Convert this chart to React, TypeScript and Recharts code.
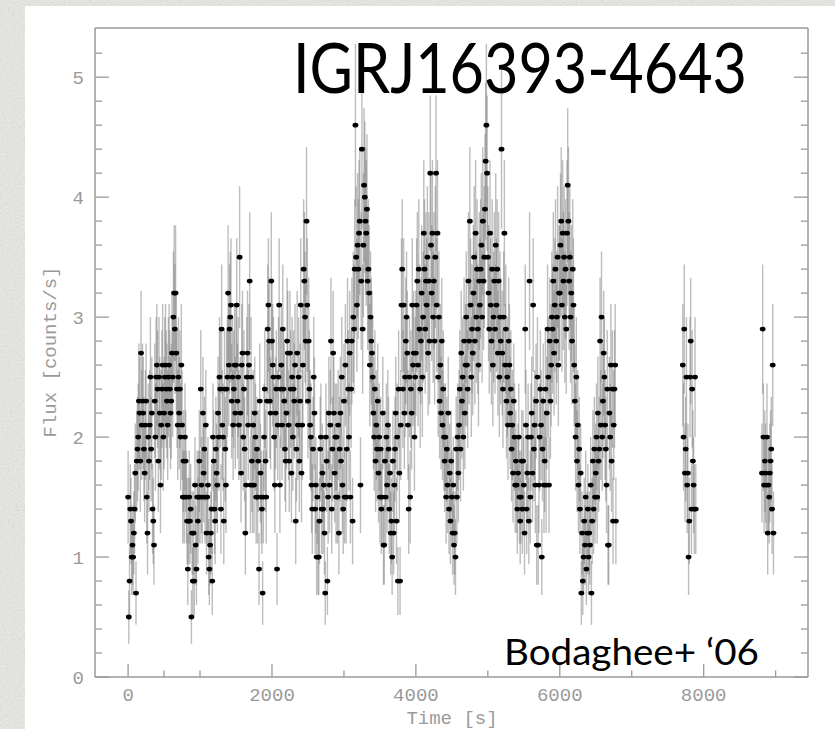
import { ErrorBar, Scatter, ScatterChart, XAxis, YAxis } from "recharts";

const W = 835;
const H = 729;
// plot frame in page pixels
const PLOT = { left: 95, right: 808, top: 28, bottom: 677 };

const BIN_S = 10;

// source counts per 10 s bin, first stretch (t = 0 ... 6780 s)
const seg1Start = 0;
const seg1Counts = [
  15, 5, 8, 14, 13, 10, 11, 10, 12, 14,
  17, 7, 18, 19, 20, 23, 22, 18, 27, 21,
  23, 22, 19, 17, 21, 23, 15, 12, 20, 18,
  21, 25, 19, 22, 14, 13, 11, 23, 20, 25,
  26, 24, 18, 25, 22, 16, 21, 24, 26, 20,
  22, 25, 26, 24, 23, 21, 25, 26, 24, 22,
  23, 27, 25, 30, 32, 29, 32, 27, 24, 21,
  25, 22, 24, 20, 26, 21, 15, 18, 15, 20,
  18, 15, 13, 9, 13, 15, 13, 14, 5, 12,
  8, 12, 8, 16, 11, 9, 15, 13, 15, 18,
  15, 24, 16, 15, 22, 17, 19, 15, 21, 12,
  15, 16, 10, 9, 11, 12, 14, 8, 20, 18,
  14, 13, 19, 17, 16, 22, 20, 25, 24, 14,
  29, 21, 20, 13, 24, 19, 16, 24, 25, 32,
  26, 29, 30, 31, 23, 25, 21, 24, 26, 22,
  26, 31, 23, 25, 21, 35, 22, 17, 26, 27,
  20, 24, 19, 12, 16, 25, 27, 21, 26, 33,
  16, 25, 18, 16, 21, 16, 22, 20, 15, 19,
  15, 18, 9, 23, 17, 15, 14, 7, 15, 20,
  24, 18, 15, 23, 29, 31, 28, 23, 22, 33,
  28, 26, 25, 20, 16, 22, 24, 9, 21, 25,
  31, 16, 24, 26, 21, 29, 24, 23, 19, 18,
  22, 28, 27, 21, 18, 27, 24, 17, 25, 20,
  24, 23, 26, 13, 19, 27, 21, 25, 18, 23,
  31, 17, 21, 26, 34, 33, 30, 28, 38, 31,
  23, 28, 24, 21, 20, 16, 14, 19, 25, 22,
  14, 16, 10, 15, 10, 10, 13, 19, 20, 14,
  17, 14, 16, 12, 7, 20, 18, 8, 15, 22,
  16, 21, 28, 14, 19, 27, 22, 17, 20, 15,
  20, 15, 21, 12, 19, 22, 18, 25, 16, 14,
  23, 15, 26, 15, 19, 28, 24, 20, 27, 15,
  24, 28, 13, 30, 29, 34, 46, 35, 31, 36,
  34, 37, 38, 16, 33, 44, 29, 36, 41, 40,
  38, 37, 39, 33, 34, 32, 26, 30, 28, 27,
  25, 22, 20, 24, 18, 21, 19, 23, 17, 20,
  15, 19, 14, 15, 22, 11, 11, 18, 15, 20,
  16, 21, 19, 14, 17, 12, 13, 10, 18, 12,
  16, 19, 22, 13, 20, 8, 24, 17, 8, 21,
  31, 34, 24, 31, 22, 25, 28, 30, 27, 21,
  14, 25, 15, 24, 22, 31, 26, 27, 20, 25,
  27, 31, 33, 26, 34, 29, 24, 28, 32, 25,
  30, 37, 34, 29, 33, 31, 35, 27, 33, 28,
  42, 36, 32, 37, 30, 33, 28, 35, 42, 31,
  37, 25, 30, 23, 26, 22, 28, 21, 24, 20,
  18, 20, 15, 19, 16, 22, 14, 17, 13, 18,
  15, 12, 16, 11, 12, 10, 19, 15, 20, 17,
  21, 24, 19, 27, 23, 25, 20, 28, 22, 26,
  30, 26, 24, 33, 28, 38, 31, 25, 29, 27,
  32, 35, 28, 37, 30, 34, 29, 26, 33, 31,
  34, 36, 30, 38, 33, 35, 39, 43, 46, 42,
  35, 32, 29, 37, 31, 28, 34, 26, 30, 33,
  29, 36, 31, 34, 27, 33, 25, 30, 28, 44,
  27, 24, 30, 37, 26, 29, 23, 25, 21, 28,
  26, 22, 24, 19, 21, 17, 23, 20, 16, 18,
  16, 14, 17, 20, 15, 13, 15, 18, 14, 18,
  16, 12, 29, 21, 14, 17, 20, 13, 33, 15,
  20, 22, 17, 31, 19, 21, 16, 23, 11, 25,
  11, 16, 20, 24, 21, 10, 19, 23, 16, 18,
  24, 16, 22, 29, 25, 16, 28, 23, 26, 30,
  29, 33, 27, 31, 34, 28, 30, 35, 26, 32,
  32, 36, 38, 31, 37, 33, 35, 30, 34, 29,
  37, 41, 38, 33, 35, 30, 32, 28, 34, 31,
  26, 23, 20, 25, 18, 21, 16, 19, 14, 17,
  7, 12, 8, 10, 13, 11, 15, 9, 12, 14,
  10, 12, 11, 16, 7, 13, 18, 14, 19, 15,
  17, 20, 15, 22, 18, 19, 28, 21, 30, 20,
  23, 27, 25, 21, 19, 16, 24, 11, 11, 22,
  20, 26, 18, 24, 13, 21, 24, 26, 13,
];

const seg2Start = 7710;
const seg2Counts = [26, 20, 29, 17, 19, 25, 16, 17, 10, 13, 25, 28, 14, 24, 18, 16, 14, 25, 14];

const seg3Start = 8810;
const seg3Counts = [17, 29, 20, 16, 18, 17, 16, 20, 12, 16, 15, 17, 18, 19, 14, 26, 12];

const xTicks = [0, 500, 1000, 1500, 2000, 2500, 3000, 3500, 4000, 4500, 5000, 5500, 6000, 6500, 7000, 7500, 8000, 8500, 9000];
const xLabels = [0, 2000, 4000, 6000, 8000];
const yTicks = [0, 0.2, 0.4, 0.6, 0.8, 1, 1.2, 1.4, 1.6, 1.8, 2, 2.2, 2.4, 2.6, 2.8, 3, 3.2, 3.4, 3.6, 3.8, 4, 4.2, 4.4, 4.6, 4.8, 5, 5.2];
const yLabels = [0, 1, 2, 3, 4, 5];

const X_DOMAIN = [-460, 9450];
const Y_DOMAIN = [0, 5.41];

function toPoints(start: number, counts: number[]) {
  return counts.map((c, i) => ({
    t: start + i * BIN_S,
    flux: c / BIN_S,
    err: Math.sqrt(c) / BIN_S,
  }));
}

const points = [
  ...toPoints(seg1Start, seg1Counts),
  ...toPoints(seg2Start, seg2Counts),
  ...toPoints(seg3Start, seg3Counts),
];

const GREY = "#9a9a9a";
const MONO = "'Liberation Mono', 'DejaVu Sans Mono', monospace";

type Side = "bottom" | "top" | "left" | "right";

function InwardTick(props: any) {
  const { x, y, payload, side } = props as { x: number; y: number; payload: { value: number }; side: Side };
  const v = payload.value;
  if (side === "bottom" || side === "top") {
    const major = xLabels.includes(v);
    const len = major ? 13 : 6.5;
    const edge = side === "bottom" ? PLOT.bottom : PLOT.top;
    const dir = side === "bottom" ? -1 : 1;
    return (
      <g>
        <line x1={x} x2={x} y1={edge} y2={edge + dir * len} stroke={GREY} strokeWidth={1.3} />
        {side === "bottom" && major && (
          <text x={x} y={PLOT.bottom + 24} textAnchor="middle" fontFamily={MONO} fontSize={19} fill={GREY}>
            {v}
          </text>
        )}
      </g>
    );
  }
  const major = yLabels.includes(v);
  const len = major ? 14 : 7;
  const edge = side === "left" ? PLOT.left : PLOT.right;
  const dir = side === "left" ? 1 : -1;
  return (
    <g>
      <line x1={edge} x2={edge + dir * len} y1={y} y2={y} stroke={GREY} strokeWidth={1.3} />
      {side === "left" && major && (
        <text x={PLOT.left - 11} y={y} dy="0.36em" textAnchor="end" fontFamily={MONO} fontSize={19} fill={GREY}>
          {v}
        </text>
      )}
    </g>
  );
}

function Dot(props: any) {
  const { cx, cy } = props;
  if (cx == null || cy == null) return null;
  return <ellipse cx={cx} cy={cy} rx={2.9} ry={2.4} fill="#000" />;
}

export default function App() {
  return (
    <div style={{ position: "absolute", left: 0, top: 0, width: W, height: H, overflow: "hidden" }}>
      <svg width={W} height={H} style={{ position: "absolute", left: 0, top: 0 }}>
        <defs>
          <filter id="paper" x="0" y="0" width="100%" height="100%">
            <feTurbulence type="fractalNoise" baseFrequency="0.5" numOctaves={3} seed={7} />
            <feColorMatrix type="saturate" values="0" />
            <feComponentTransfer>
              <feFuncA type="table" tableValues="0 0.9" />
            </feComponentTransfer>
          </filter>
        </defs>
        <rect width={W} height={H} fill="#e8e8e4" />
        <rect width={W} height={H} filter="url(#paper)" opacity={0.3} />
        <rect x={25} y={6} width={W - 25} height={H - 6} fill="#ffffff" />
      </svg>

      <div style={{ position: "absolute", left: 0, top: 0 }}>
        <ScatterChart
          width={W}
          height={H}
          margin={{ top: PLOT.top - 10, right: W - PLOT.right - 10, bottom: H - PLOT.bottom - 40, left: PLOT.left - 60 }}
        >
          <XAxis
            xAxisId={0}
            type="number"
            dataKey="t"
            domain={X_DOMAIN}
            ticks={xTicks}
            allowDataOverflow
            height={40}
            tickLine={false}
            tickSize={0}
            tickMargin={0}
            axisLine={{ stroke: GREY, strokeWidth: 1.5 }}
            tick={(p: any) => <InwardTick {...p} side="bottom" />}
          />
          <XAxis
            xAxisId="top"
            orientation="top"
            type="number"
            domain={X_DOMAIN}
            ticks={xTicks}
            allowDataOverflow
            height={10}
            tickLine={false}
            tickSize={0}
            tickMargin={0}
            axisLine={{ stroke: GREY, strokeWidth: 1.5 }}
            tick={(p: any) => <InwardTick {...p} side="top" />}
          />
          <YAxis
            yAxisId={0}
            type="number"
            dataKey="flux"
            domain={Y_DOMAIN}
            ticks={yTicks}
            allowDataOverflow
            width={60}
            tickLine={false}
            tickSize={0}
            tickMargin={0}
            axisLine={{ stroke: GREY, strokeWidth: 1.5 }}
            tick={(p: any) => <InwardTick {...p} side="left" />}
          />
          <YAxis
            yAxisId="right"
            orientation="right"
            type="number"
            domain={Y_DOMAIN}
            ticks={yTicks}
            allowDataOverflow
            width={10}
            tickLine={false}
            tickSize={0}
            tickMargin={0}
            axisLine={{ stroke: GREY, strokeWidth: 1.5 }}
            tick={(p: any) => <InwardTick {...p} side="right" />}
          />
          <Scatter data={points} dataKey="flux" shape={Dot} isAnimationActive={false}>
            <ErrorBar
              dataKey="err"
              direction="y"
              width={0}
              stroke="#7c7c7c"
              strokeWidth={1.4}
              strokeOpacity={0.5}
              isAnimationActive={false}
            />
          </Scatter>
        </ScatterChart>
      </div>

      <svg width={W} height={H} style={{ position: "absolute", left: 0, top: 0, pointerEvents: "none" }}>
        <text
          x={293}
          y={93}
          fontFamily="Lato, 'Open Sans', sans-serif"
          fontSize={70}
          textLength={454}
          lengthAdjust="spacingAndGlyphs"
          fill="#000"
        >
          IGRJ16393-4643
        </text>
        <text
          x={504}
          y={665}
          fontFamily="Lato, 'Open Sans', sans-serif"
          fontSize={37}
          textLength={255}
          lengthAdjust="spacingAndGlyphs"
          fill="#000"
        >
          Bodaghee+ ‘06
        </text>
        <text x={452} y={724} textAnchor="middle" fontFamily={MONO} fontSize={19} fill={GREY}>
          Time [s]
        </text>
        <text
          transform="translate(56 352) rotate(-90)"
          textAnchor="middle"
          fontFamily={MONO}
          fontSize={19}
          fill={GREY}
        >
          Flux [counts/s]
        </text>
      </svg>
    </div>
  );
}
